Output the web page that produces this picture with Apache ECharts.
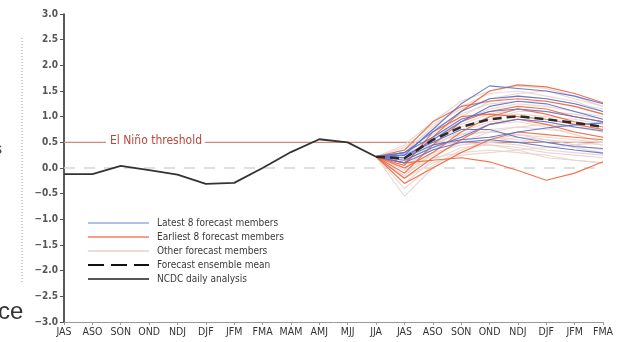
<!DOCTYPE html>
<html><head><meta charset="utf-8">
<script src="https://cdn.jsdelivr.net/npm/echarts@6/dist/echarts.min.js"></script>
<style>html,body{margin:0;padding:0;background:#fff}#c{width:630px;height:342px}</style>
</head><body><div id="c"></div>
<script>
const categories = ['JAS','ASO','SON','OND','NDJ','DJF','JFM','FMA','MAM','AMJ','MJJ','JJA','JAS','ASO','SON','OND','NDJ','DJF','JFM','FMA'];
const yTicks = [-3.0,-2.5,-2.0,-1.5,-1.0,-0.5,0.0,0.5,1.0,1.5,2.0,2.5,3.0];
const observed = [-0.12,-0.12,0.04,-0.04,-0.13,-0.31,-0.29,0.0,0.31,0.56,0.5,0.22];
const forecastStart = 11; // JJA
const ensembleMean = [0.22,0.19,0.55,0.8,0.95,1.01,0.95,0.88,0.8];
const threshold = 0.5;
const latestMembers = [
  [0.22,0.25,0.75,1.25,1.6,1.55,1.5,1.4,1.25],
  [0.22,0.3,0.7,1.1,1.35,1.4,1.35,1.25,1.1],
  [0.22,0.2,0.55,0.9,1.2,1.3,1.25,1.1,0.95],
  [0.22,0.15,0.4,0.6,0.85,0.95,0.9,0.8,0.72],
  [0.22,0.2,0.45,0.55,0.6,0.7,0.78,0.84,0.88],
  [0.22,0.25,0.5,0.75,0.75,0.6,0.5,0.42,0.38],
  [0.22,0.1,0.35,0.5,0.55,0.5,0.42,0.35,0.29],
  [0.22,0.3,0.6,0.95,1.1,1.15,1.1,1.0,0.9]
];
const earliestMembers = [
  [0.22,0.1,0.6,1.1,1.5,1.62,1.58,1.45,1.27],
  [0.22,0.1,0.15,0.2,0.12,-0.05,-0.24,-0.1,0.12],
  [0.22,-0.1,0.45,0.9,1.1,1.2,1.15,1.0,0.9],
  [0.22,0.0,0.3,0.7,1.0,1.15,1.05,0.9,0.8],
  [0.22,-0.2,0.2,0.55,0.85,0.95,0.85,0.7,0.6],
  [0.22,0.35,0.9,1.2,1.3,1.35,1.3,1.2,1.05],
  [0.22,-0.3,0.0,0.3,0.55,0.7,0.65,0.6,0.55],
  [0.22,0.05,0.7,1.0,1.05,1.0,0.95,0.85,0.75]
];
const otherMembers = [
  [0.22,-0.55,0.0,0.3,0.5,0.6,0.55,0.5,0.45],
  [0.22,0.45,0.9,1.3,1.5,1.6,1.55,1.4,1.2],
  [0.22,0.3,0.8,1.2,1.45,1.5,1.4,1.3,1.1],
  [0.22,0.1,0.5,0.8,1.0,1.05,1.0,0.95,0.85],
  [0.22,0.0,0.3,0.45,0.5,0.45,0.35,0.3,0.25],
  [0.22,-0.1,0.2,0.3,0.35,0.3,0.25,0.15,0.1],
  [0.22,0.2,0.6,0.9,1.15,1.25,1.2,1.1,1.0],
  [0.22,0.15,0.4,0.55,0.6,0.55,0.5,0.4,0.3],
  [0.22,-0.3,0.15,0.4,0.45,0.4,0.3,0.25,0.2],
  [0.22,0.25,0.65,1.0,1.3,1.4,1.35,1.25,1.15],
  [0.22,0.05,0.35,0.6,0.75,0.8,0.75,0.7,0.6],
  [0.22,-0.2,0.1,0.25,0.3,0.35,0.4,0.45,0.5],
  [0.22,0.35,0.75,1.05,1.25,1.3,1.3,1.2,1.05],
  [0.22,0.1,0.45,0.7,0.9,0.95,0.9,0.8,0.7],
  [0.22,-0.05,0.25,0.5,0.7,0.8,0.85,0.8,0.75],
  [0.22,0.2,0.5,0.65,0.7,0.65,0.55,0.45,0.35],
  [0.22,-0.4,0.05,0.35,0.55,0.65,0.6,0.55,0.5],
  [0.22,0.4,0.85,1.15,1.35,1.45,1.5,1.35,1.2],
  [0.22,0.0,0.4,0.75,0.95,1.1,1.1,1.05,0.95],
  [0.22,0.15,0.55,0.85,1.05,1.15,1.1,1.0,0.9],
  [0.22,0.3,0.45,0.5,0.45,0.35,0.2,0.15,0.1],
  [0.22,-0.15,0.3,0.65,0.85,0.9,0.8,0.65,0.5]
];
const legendNames = ['Latest 8 forecast members','Earliest 8 forecast members','Other forecast members','Forecast ensemble mean','NCDC daily analysis'];

const FONT = 'DejaVu Sans Condensed';
function pad(arr){ const out = new Array(forecastStart).fill(null); return out.concat(arr); }
function memberSeries(list, name, color, width, opacity){
  return list.map(d => ({
    type:'line', name:name, data:pad(d), symbol:'none', showSymbol:false, silent:true,
    itemStyle:{color:color},
    lineStyle:{color:color, width:width, opacity:opacity}, z:2
  }));
}
const series = [];
series.push({type:'line', name:'zero', data:categories.map(()=>0), symbol:'none', silent:true,
  lineStyle:{color:'#d6d6d6', width:1.5, type:[11,9]}, z:1});
series.push({type:'line', name:'thr', data:categories.map(()=>threshold), symbol:'none', silent:true,
  lineStyle:{color:'#cf8a7c', width:1.2}, z:1});
series.push(...memberSeries(otherMembers, legendNames[2], '#e9d3cb', 1.1, 0.9));
series.push(...memberSeries(earliestMembers, legendNames[1], '#f0643c', 1.1, 0.9));
series.push(...memberSeries(latestMembers, legendNames[0], '#5a6fcc', 1.1, 0.9));
series.push({type:'line', name:legendNames[3], data:pad(ensembleMean), symbol:'none', silent:true,
  itemStyle:{color:'#2a2a2a'},
  lineStyle:{color:'#2a2a2a', width:2.5, type:[9,5]}, z:5});
series.push({type:'line', name:legendNames[4], data:observed.concat(new Array(categories.length-observed.length).fill(null)), symbol:'none', silent:true,
  itemStyle:{color:'#333'},
  lineStyle:{color:'#333', width:1.8}, z:6});

const hidden = {opacity:0};
const chart = echarts.init(document.getElementById('c'), null, {renderer:'canvas'});
chart.setOption({
  animation:false,
  backgroundColor:'#fff',
  grid:{left:64, right:27, top:14, bottom:20, containLabel:false},
  legend:{
    orient:'vertical', left:82, top:213, itemWidth:61, itemHeight:10, itemGap:4,
    selectedMode:false,
    textStyle:{fontFamily:FONT, fontSize:10, color:'#3a3a3a', padding:[0,0,0,3]},
    data:[
      {name:legendNames[0], itemStyle:hidden, lineStyle:{width:1, color:'#6e80d2', opacity:1}},
      {name:legendNames[1], itemStyle:hidden, lineStyle:{width:2, color:'#f5a088', opacity:1}},
      {name:legendNames[2], itemStyle:hidden, lineStyle:{width:2, color:'#ecdcd7', opacity:1}},
      {name:legendNames[3], itemStyle:hidden, lineStyle:{width:2, color:'#111', type:[16,7], opacity:1}},
      {name:legendNames[4], itemStyle:hidden, lineStyle:{width:2, color:'#555', opacity:1}}
    ]
  },
  xAxis:{
    type:'category', data:categories, boundaryGap:false,
    axisLine:{onZero:false, lineStyle:{color:'#999', width:1}},
    axisTick:{show:true, length:3, alignWithLabel:true, lineStyle:{color:'#999'}},
    axisLabel:{fontFamily:FONT, fontSize:10.5, color:'#333', margin:5, interval:0},
    splitLine:{show:false}
  },
  yAxis:{
    type:'value', min:yTicks[0], max:yTicks[yTicks.length-1], interval:0.5,
    axisLine:{show:true, lineStyle:{color:'#222', width:1.5}},
    axisTick:{show:true, length:4, lineStyle:{color:'#555'}},
    axisLabel:{fontFamily:FONT, fontSize:10, fontWeight:'bold', color:'#555', margin:6,
      formatter:v => (v<0?'\u2212':'') + Math.abs(v).toFixed(1)},
    splitLine:{show:false}
  },
  series:series
});

const p = chart.convertToPixel({xAxisIndex:0, yAxisIndex:0}, [2, threshold]);
chart.setOption({graphic:[
  {type:'text', left:106, top:p[1]-7, z:10, style:{text:'El Ni\u00f1o threshold', fill:'#b5473b',
    font:'12px "'+FONT+'"', backgroundColor:'#fff', padding:[0,3,0,4]}},
  {type:'line', z:10, shape:{x1:22, y1:38, x2:22, y2:284}, style:{stroke:'#999', lineWidth:1, lineDash:[1,2]}},
  {type:'text', left:-2, top:300, z:10, style:{text:'ce', fill:'#333', font:'24px "Liberation Sans"'}},
  {type:'text', left:-6, top:142, z:10, style:{text:'s', fill:'#444', font:'16px "Liberation Sans"'}}
]});
</script></body></html>
